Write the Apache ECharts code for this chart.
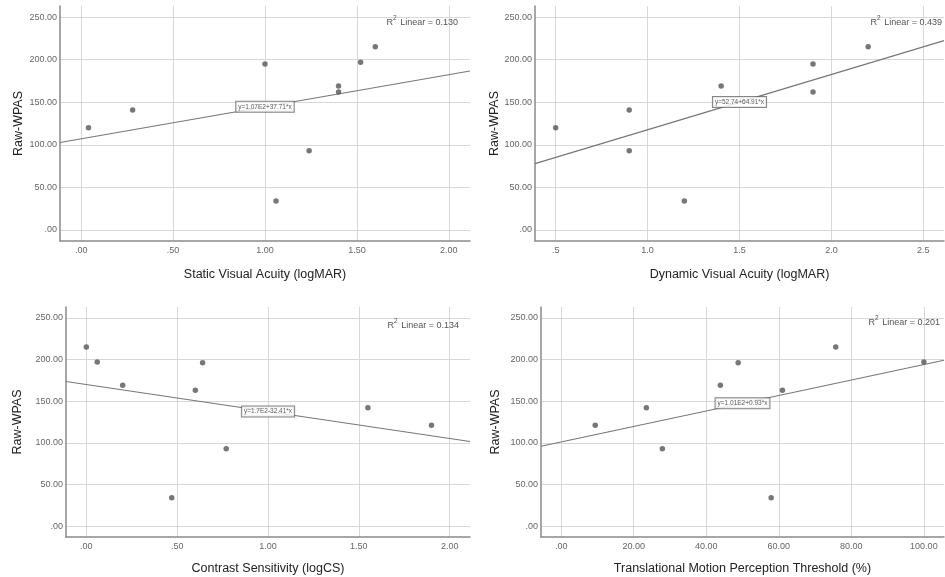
<!DOCTYPE html>
<html><head><meta charset="utf-8">
<script src="https://cdn.jsdelivr.net/npm/echarts@6/dist/echarts.min.js"></script>
<style>html,body{margin:0;padding:0;background:#fff}#c{width:945px;height:577px}</style>
</head><body><div id="c"></div>
<script>
// ---- data ----
const svaX = [0.04, 0.28, 1.00, 1.06, 1.24, 1.40, 1.40, 1.52, 1.60];
const svaY = [120, 141, 195, 34, 93, 169, 162, 197, 215];
const dvaX = [0.5, 0.9, 0.9, 1.2, 1.4, 1.9, 1.9, 2.2];
const dvaY = [120, 141, 93, 34, 169, 195, 162, 215];
const csX = [0.00, 0.06, 0.20, 0.47, 0.60, 0.64, 0.77, 1.55, 1.90];
const csY = [215, 197, 169, 34, 163, 196, 93, 142, 121];
const tmpX = [9.4, 23.5, 27.9, 43.9, 48.8, 57.9, 61.0, 75.7, 100.0];
const tmpY = [121, 142, 93, 169, 196, 34, 163, 215, 197];

const intercepts = [107, 52.74, 170, 101];
const slopes = [37.71, 64.91, -32.41, 0.93];
const eqLabels = ['y=1.07E2+37.71*x', 'y=52.74+64.91*x', 'y=1.7E2-32.41*x', 'y=1.01E2+0.93*x'];
const r2Labels = ['0.130', '0.439', '0.134', '0.201'];

const xNames = ['Static Visual Acuity (logMAR)', 'Dynamic Visual Acuity (logMAR)', 'Contrast Sensitivity (logCS)', 'Translational Motion Perception Threshold (%)'];
const yName = 'Raw-WPAS';

const yTicks = [0, 50, 100, 150, 200, 250];
const yTickLabels = ['.00', '50.00', '100.00', '150.00', '200.00', '250.00'];
const svaTicks = [0, 0.5, 1, 1.5, 2];
const svaTickLabels = ['.00', '.50', '1.00', '1.50', '2.00'];
const dvaTicks = [0.5, 1.0, 1.5, 2.0, 2.5];
const dvaTickLabels = ['.5', '1.0', '1.5', '2.0', '2.5'];
const csTicks = [0, 0.5, 1, 1.5, 2];
const csTickLabels = ['.00', '.50', '1.00', '1.50', '2.00'];
const tmpTicks = [0, 20, 40, 60, 80, 100];
const tmpTickLabels = ['.00', '20.00', '40.00', '60.00', '80.00', '100.00'];

// ---- layout / style ----
const FF = "'Liberation Sans', Arial, sans-serif";
const panels = [
  {x: svaX, y: svaY, ticks: svaTicks, labels: svaTickLabels, min: -0.115, max: 2.115,
   grid: {left: 60, top: 6, right: 475, bottom: 336}, yGap: 35, xGap: 27, r2: {right: 487, top: 15}},
  {x: dvaX, y: dvaY, ticks: dvaTicks, labels: dvaTickLabels, min: 0.3875, max: 2.6125,
   grid: {left: 535, top: 6, right: 1, bottom: 336}, yGap: 33, xGap: 27, r2: {right: 3, top: 15}},
  {x: csX, y: csY, ticks: csTicks, labels: csTickLabels, min: -0.112, max: 2.112,
   grid: {left: 66, top: 307, right: 475, bottom: 40}, yGap: 42, xGap: 25.5, r2: {right: 486, top: 318}},
  {x: tmpX, y: tmpY, ticks: tmpTicks, labels: tmpTickLabels, min: -5.55, max: 105.55,
   grid: {left: 541, top: 307, right: 1, bottom: 40}, yGap: 39, xGap: 25.5, r2: {right: 5, top: 315}}
];
const yMin = -13, yMax = 263;

function fmt(ticks, labels) {
  return function (v) {
    for (let k = 0; k < ticks.length; k++) if (Math.abs(ticks[k] - v) < 1e-9) return labels[k];
    return '';
  };
}

const grids = [], xAxes = [], yAxes = [], series = [], titles = [];
panels.forEach(function (p, i) {
  grids.push(Object.assign({containLabel: false}, p.grid));
  xAxes.push({
    type: 'value', gridIndex: i, min: p.min, max: p.max,
    name: xNames[i], nameLocation: 'middle', nameGap: p.xGap,
    nameTextStyle: {fontFamily: FF, fontSize: 12.5, color: '#222'},
    axisLine: {show: true, onZero: false, lineStyle: {color: '#8a8a8a', width: 1.5}},
    axisTick: {show: false, customValues: p.ticks},
    axisLabel: {customValues: p.ticks, formatter: fmt(p.ticks, p.labels), fontFamily: FF, fontSize: 9, color: '#666', margin: 5},
    splitLine: {show: true, lineStyle: {color: '#d8d8d8', width: 1}}
  });
  yAxes.push({
    type: 'value', gridIndex: i, min: yMin, max: yMax,
    name: yName, nameLocation: 'middle', nameGap: p.yGap, nameRotate: 90,
    nameTextStyle: {fontFamily: FF, fontSize: 12.5, color: '#222'},
    axisLine: {show: true, onZero: false, lineStyle: {color: '#8a8a8a', width: 1.5}},
    axisTick: {show: false, customValues: yTicks},
    axisLabel: {customValues: yTicks, formatter: fmt(yTicks, yTickLabels), fontFamily: FF, fontSize: 9, color: '#666', margin: 3},
    splitLine: {show: true, lineStyle: {color: '#d8d8d8', width: 1}}
  });
  // regression line across the axis range
  const lineData = [p.min, p.max].map(function (xv) { return [xv, intercepts[i] + slopes[i] * xv]; });
  series.push({
    type: 'line', xAxisIndex: i, yAxisIndex: i, data: lineData, symbol: 'none', silent: true,
    lineStyle: {color: '#777', width: 1.1}, z: 2, animation: false
  });
  series.push({
    type: 'scatter', xAxisIndex: i, yAxisIndex: i, symbolSize: 5.5,
    data: p.x.map(function (xv, k) { return [xv, p.y[k]]; }),
    itemStyle: {color: '#555'}, z: 3, animation: false
  });
  const mx = (p.min + p.max) / 2;
  series.push({
    type: 'scatter', xAxisIndex: i, yAxisIndex: i, symbolSize: 1,
    data: [[mx, intercepts[i] + slopes[i] * mx]],
    itemStyle: {color: 'transparent'}, z: 5, animation: false, silent: true,
    label: {show: true, position: 'inside', formatter: eqLabels[i], fontFamily: FF, fontSize: 6.5, color: '#333',
      backgroundColor: '#fff', borderColor: '#666', borderWidth: 1, padding: [2, 2, 1, 2]}
  });
  titles.push({
    right: p.r2.right, top: p.r2.top, padding: 0, text: '{a|R}{s|2}{a| Linear = ' + r2Labels[i] + '}',
    textStyle: {fontWeight: 'normal', rich: {
      a: {fontFamily: FF, fontSize: 9, fontWeight: 'normal', color: '#555', verticalAlign: 'bottom', lineHeight: 12},
      s: {fontFamily: FF, fontSize: 6.5, fontWeight: 'normal', color: '#555', verticalAlign: 'top', lineHeight: 12, padding: [0, 1, 5, 0]}
    }}
  });
});

const chart = echarts.init(document.getElementById('c'), null, {renderer: 'canvas'});
chart.setOption({
  animation: false, backgroundColor: '#fff',
  title: titles, grid: grids, xAxis: xAxes, yAxis: yAxes, series: series
});
</script></body></html>
